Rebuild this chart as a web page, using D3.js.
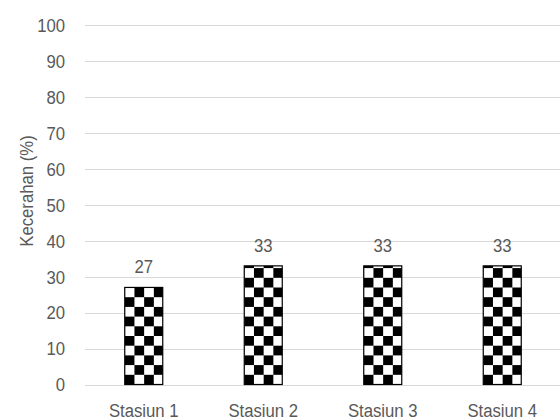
<!DOCTYPE html>
<html>
<head>
<meta charset="utf-8">
<script src="https://cdn.jsdelivr.net/npm/d3@7"></script>
<style>
  html, body { margin: 0; padding: 0; background: #fff; }
  svg { display: block; }
  text { font-family: "Liberation Sans", Arial, sans-serif; fill: #595959; }
</style>
</head>
<body>
<svg id="chart" width="560" height="419"></svg>
<script>
// Water clarity per station
const categories = ["Stasiun 1", "Stasiun 2", "Stasiun 3", "Stasiun 4"];
const values = [27, 33, 33, 33];
const yTicks = [0, 10, 20, 30, 40, 50, 60, 70, 80, 90, 100];
const yTitle = "Kecerahan (%)";

const svg = d3.select("#chart");
const W = 560, H = 419;
const plot = { left: 84, right: 562, top: 25, bottom: 384.5 };
const FS = 19;          // label font size
const NARROW = 0.88;    // horizontal squeeze for a condensed look

const x = d3.scaleBand()
  .domain(categories)
  .range([plot.left, plot.right])
  .paddingInner(0.682)
  .paddingOuter(0.341);

const y = d3.scaleLinear()
  .domain([0, 100])
  .range([plot.bottom, plot.top]);

// Horizontal gridlines
svg.append("g")
  .selectAll("line")
  .data(yTicks)
  .join("line")
  .attr("x1", plot.left + 1)
  .attr("x2", W)
  .attr("y1", d => Math.round(y(d)) + 0.5)
  .attr("y2", d => Math.round(y(d)) + 0.5)
  .attr("stroke", "#d9d9d9")
  .attr("stroke-width", 1);

// Y tick labels
svg.append("g")
  .selectAll("text")
  .data(yTicks)
  .join("text")
  .attr("transform", d => `translate(65,${y(d)}) scale(${NARROW},1)`)
  .attr("dy", "0.36em")
  .attr("text-anchor", "end")
  .attr("font-size", FS)
  .text(d => d);

// Y axis title
svg.append("text")
  .attr("transform", `translate(26,191) rotate(-90) scale(${NARROW},1)`)
  .attr("text-anchor", "middle")
  .attr("dy", "0.36em")
  .attr("font-size", FS)
  .text(yTitle);

// Checkerboard fill, one pattern per bar anchored at the bar's base
const cell = 9.7;
const defs = svg.append("defs");
categories.forEach((c, i) => {
  const p = defs.append("pattern")
    .attr("id", "chk" + i)
    .attr("patternUnits", "userSpaceOnUse")
    .attr("x", x(c))
    .attr("y", y(0))
    .attr("width", cell * 2)
    .attr("height", cell * 2);
  p.append("rect").attr("width", cell * 2).attr("height", cell * 2).attr("fill", "#fff");
  p.append("rect").attr("x", 0).attr("y", cell).attr("width", cell).attr("height", cell).attr("fill", "#000");
  p.append("rect").attr("x", cell).attr("y", 0).attr("width", cell).attr("height", cell).attr("fill", "#000");
});

// Bars
svg.append("g")
  .selectAll("rect")
  .data(values)
  .join("rect")
  .attr("x", (d, i) => x(categories[i]))
  .attr("y", d => y(d))
  .attr("width", x.bandwidth())
  .attr("height", d => y(0) - y(d))
  .attr("fill", (d, i) => `url(#chk${i})`)
  .attr("stroke", "#000")
  .attr("stroke-width", 1.2);

// Value labels
svg.append("g")
  .selectAll("text")
  .data(values)
  .join("text")
  .attr("transform", (d, i) => `translate(${x(categories[i]) + x.bandwidth() / 2},${y(d) - 21}) scale(${NARROW},1)`)
  .attr("dy", "0.36em")
  .attr("text-anchor", "middle")
  .attr("font-size", FS)
  .text(d => d);

// Category labels
svg.append("g")
  .selectAll("text")
  .data(categories)
  .join("text")
  .attr("transform", d => `translate(${x(d) + x.bandwidth() / 2},410) scale(${NARROW},1)`)
  .attr("dy", "0.36em")
  .attr("text-anchor", "middle")
  .attr("font-size", FS)
  .text(d => d);
</script>
</body>
</html>
